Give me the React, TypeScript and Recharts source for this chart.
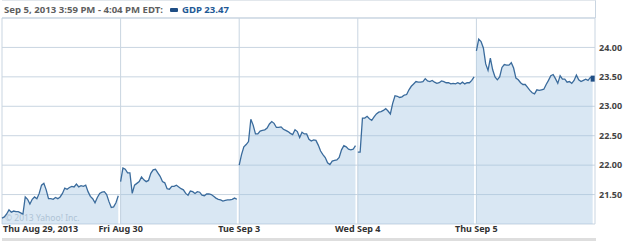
import React from 'react';
import {
  ComposedChart,
  Area,
  XAxis,
  YAxis,
  CartesianGrid,
  ReferenceLine,
} from 'recharts';

// GDP intraday prices, one array per trading day (evenly spaced through the day)
const thuAug29 = [
  21.10, 21.12, 21.17, 21.24, 21.20, 21.22, 21.21, 21.21, 21.19, 21.17,
  21.46, 21.42, 21.34, 21.42, 21.46, 21.43, 21.52, 21.66, 21.69, 21.58,
  21.43, 21.43, 21.42, 21.45, 21.43, 21.46, 21.52, 21.61, 21.59, 21.62,
  21.64, 21.63, 21.68, 21.63, 21.65, 21.64, 21.66, 21.55, 21.47, 21.43,
  21.36, 21.45, 21.52, 21.54, 21.55, 21.50, 21.38, 21.28, 21.29, 21.36,
  21.48,
];
const friAug30 = [
  21.72, 21.95, 21.93, 21.87, 21.87, 21.52, 21.66, 21.69, 21.72, 21.80,
  21.75, 21.72, 21.74, 21.86, 21.92, 21.93, 21.87, 21.81, 21.72, 21.70,
  21.60, 21.59, 21.64, 21.64, 21.66, 21.63, 21.60, 21.58, 21.52, 21.49,
  21.56, 21.55, 21.52, 21.55, 21.54, 21.49, 21.48, 21.51, 21.51, 21.50,
  21.47, 21.44, 21.42, 21.41, 21.39, 21.40, 21.41, 21.41, 21.42, 21.44,
  21.42,
];
const tueSep3 = [
  22.00, 22.18, 22.31, 22.35, 22.40, 22.78, 22.68, 22.53, 22.53, 22.58,
  22.59, 22.60, 22.63, 22.70, 22.74, 22.71, 22.64, 22.64, 22.65, 22.61,
  22.59, 22.57, 22.54, 22.52, 22.60, 22.57, 22.47, 22.56, 22.53, 22.53,
  22.44, 22.41, 22.43, 22.42, 22.34, 22.24, 22.18, 22.13, 22.04, 22.01,
  22.07, 22.08, 22.09, 22.13, 22.26, 22.33, 22.31, 22.27, 22.26, 22.27,
  22.33,
];
const wedSep4 = [
  22.22, 22.22, 22.80, 22.80, 22.83, 22.79, 22.76, 22.82, 22.87, 22.90,
  22.91, 22.93, 22.96, 22.92, 22.87, 23.05, 23.18, 23.17, 23.15, 23.16,
  23.19, 23.20, 23.28, 23.34, 23.38, 23.42, 23.41, 23.41, 23.42, 23.47,
  23.43, 23.42, 23.44, 23.41, 23.39, 23.40, 23.43, 23.42, 23.40, 23.40,
  23.38, 23.39, 23.38, 23.40, 23.38, 23.41, 23.38, 23.40, 23.40, 23.44,
  23.50,
];
const thuSep5 = [
  23.94, 24.14, 24.10, 23.99, 23.72, 23.61, 23.82, 23.62, 23.50, 23.45,
  23.50, 23.66, 23.71, 23.70, 23.70, 23.74, 23.65, 23.48, 23.45, 23.40,
  23.37, 23.37, 23.32, 23.27, 23.23, 23.21, 23.28, 23.27, 23.28, 23.29,
  23.37, 23.44, 23.52, 23.54, 23.47, 23.39, 23.52, 23.46, 23.46, 23.41,
  23.42, 23.39, 23.44, 23.53, 23.45, 23.42, 23.44, 23.46, 23.44, 23.49,
  23.47,
];

const days = [thuAug29, friAug30, tueSep3, wedSep4, thuSep5];
const dayLabels = ['Thu Aug 29, 2013', 'Fri Aug 30', 'Tue Sep 3', 'Wed Sep 4', 'Thu Sep 5', ''];
const priceTicks = [21.5, 22.0, 22.5, 23.0, 23.5, 24.0];

// one row per sample, each day in its own key so the areas stay separate
const data: Record<string, number>[] = [];
days.forEach((vals, d) => {
  vals.forEach((v, i) => {
    data.push({ x: d + i / vals.length, [`d${d}`]: v });
  });
});
const lastX = data[data.length - 1].x;

const GRID = '#c9d5e1';
const LINE = '#3a6b9c';
const FONT = '"Noto Sans", Tahoma, sans-serif';

const DayTick = (props: any) => {
  const { x, y, index } = props;
  const label = dayLabels[index] ?? '';
  return (
    <text
      x={index === 0 ? x + 1 : x}
      y={y}
      dy={4}
      textAnchor={index === 0 ? 'start' : 'middle'}
      fill="#333"
      fontSize={9}
      fontWeight={700}
      fontFamily={FONT}
    >
      {label}
    </text>
  );
};

const EndDot = (props: any) => {
  const { cx, cy, payload } = props;
  if (payload && payload.x === lastX && cx != null) {
    return <rect x={cx - 2} y={cy - 3} width={4} height={6} fill="#1f4e85" />;
  }
  return <g />;
};

export default function App() {
  return (
    <div style={{ position: 'absolute', left: 0, top: 0, width: 625, height: 242, background: '#fff' }}>
      {/* header */}
      <div
        style={{
          position: 'absolute',
          left: 2,
          top: 0,
          width: 593,
          height: 17,
          borderTop: '1px solid #e2e7ec',
          borderRight: `1px solid ${GRID}`,
          fontFamily: FONT,
          fontSize: 9.6,
          fontWeight: 700,
          lineHeight: '18px',
          whiteSpace: 'nowrap',
        }}
      >
        <span style={{ color: '#5f5f5f', marginLeft: 2 }}>Sep 5, 2013 3:59 PM - 4:04 PM EDT:</span>
        <span
          style={{
            display: 'inline-block',
            width: 8,
            height: 4,
            background: '#1f4e85',
            borderRadius: 1,
            marginLeft: 7,
            marginRight: 4,
            verticalAlign: 'middle',
          }}
        />
        <span style={{ color: '#1f5a96' }}>GDP 23.47</span>
      </div>

      {/* watermark, under the semi-transparent fill */}
      <div
        style={{
          position: 'absolute',
          left: 5,
          top: 212,
          fontFamily: FONT,
          fontSize: 8.5,
          color: '#b9c4ce',
          whiteSpace: 'nowrap',
        }}
      >
        © 2013 Yahoo! Inc.
      </div>

      <div style={{ position: 'absolute', left: 0, top: 0 }}>
        <ComposedChart
          width={625}
          height={242}
          data={data}
          margin={{ top: 18, right: 0, bottom: 0, left: 2 }}
        >
          <CartesianGrid stroke={GRID} strokeWidth={1} />
          <ReferenceLine y={24.5} stroke={GRID} ifOverflow="extendDomain" />
          <XAxis
            dataKey="x"
            type="number"
            domain={[0, 5]}
            ticks={[0, 1, 2, 3, 4, 5]}
            axisLine={false}
            tickLine={false}
            tickSize={0}
            tickMargin={4}
            height={18}
            interval={0}
            tick={<DayTick />}
          />
          <YAxis
            orientation="right"
            domain={[21, 24.5]}
            ticks={priceTicks}
            axisLine={false}
            tickLine={false}
            tickSize={0}
            tickMargin={4}
            width={30}
            tickFormatter={(v: number) => v.toFixed(2)}
            tick={{ fill: '#444', fontSize: 9, fontWeight: 700, fontFamily: FONT }}
          />
          {days.map((_, d) => (
            <Area
              key={d}
              type="linear"
              dataKey={`d${d}`}
              stroke={LINE}
              strokeWidth={1.3}
              fill="#9fc3e0"
              fillOpacity={0.4}
              baseValue={21}
              connectNulls={false}
              dot={d === days.length - 1 ? <EndDot /> : false}
              activeDot={false}
              isAnimationActive={false}
            />
          ))}
        </ComposedChart>
      </div>

      {/* bottom bar */}
      <div style={{ position: 'absolute', left: 2, top: 238, width: 594, height: 3, background: '#dedede' }} />
    </div>
  );
}
